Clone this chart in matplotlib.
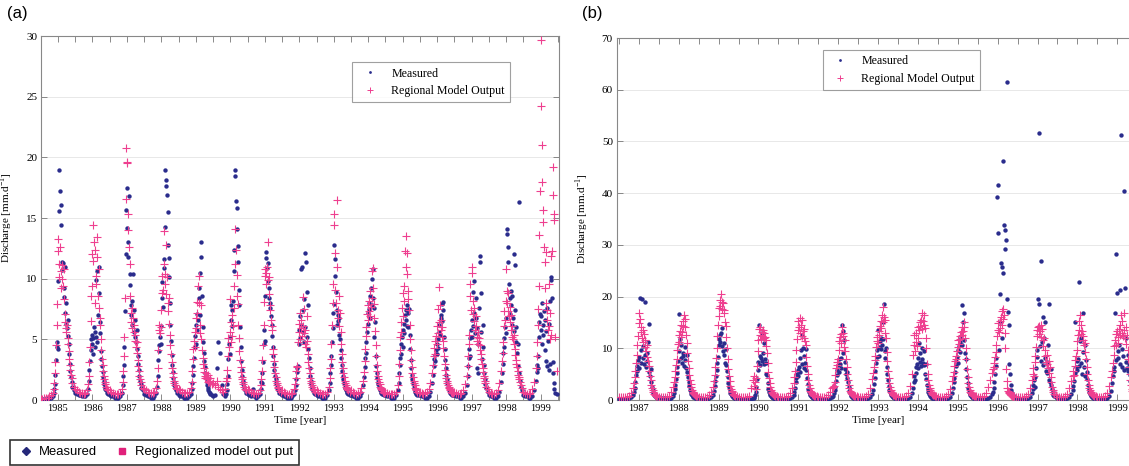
import numpy as np
import matplotlib
matplotlib.use("Agg")
import matplotlib.pyplot as plt
from matplotlib.ticker import MultipleLocator
from matplotlib.lines import Line2D

plt.rcParams['font.family'] = 'Liberation Serif'
plt.rcParams['mathtext.fontset'] = 'custom'
plt.rcParams['mathtext.rm'] = 'Liberation Serif'

NAVY = '#2a2c8c'
PINK = '#ee3f8f'

# sample times inside each hydrological year, relative to the year tick:
# sparse in the low flow season, denser around the melt peak
PRE = [-0.50, -0.45, -0.40, -0.35, -0.30, -0.25, -0.20, -0.15]
PEAK = list(-0.12 + np.arange(32) / 60)
POST = [0.42, 0.46]
OFFS = np.array(PRE + PEAK + POST)

# ---- panel (a) ----
YEARS_A = list(range(1985, 2000))
MEAS_A = [
    [0.1,0.1,0.1,0.1,0.1,0.2,0.2,0.3, 0.6,0.9,1.3,2.1,3.3,4.4,4.8,4.2,9.8,15.6,19.0,17.2,14.4,16.1,11.4,10.7,11.3,8.5,9.2,11.0,7.2,6.3,8.0,5.9,6.6,5.3,4.6,3.8,3.0,2.4,1.9,1.5, 1.1,0.8],
    [0.6,0.5,0.4,0.4,0.3,0.3,0.3,0.5, 0.9,1.6,2.5,3.2,4.1,5.0,4.6,5.4,3.8,5.1,6.0,4.4,5.6,9.9,5.2,4.8,10.6,7.0,11.0,8.8,6.4,5.5,4.0,3.4,2.8,2.3,1.9,1.6,1.3,1.1,0.9,0.8, 0.6,0.5],
    [0.4,0.3,0.3,0.2,0.2,0.2,0.3,0.6, 1.2,2.0,2.9,4.4,7.3,12.0,15.7,17.5,14.2,13.0,11.8,16.8,10.4,9.5,7.8,7.0,8.2,6.2,10.4,7.4,5.6,6.6,5.2,4.8,5.8,4.2,3.6,3.0,2.5,2.0,1.6,1.3, 1.0,0.8],
    [0.5,0.4,0.3,0.3,0.2,0.2,0.3,0.6, 1.1,2.0,3.3,4.5,4.0,5.2,4.6,6.1,8.4,9.7,7.7,10.9,11.6,14.3,19.0,18.1,17.6,16.9,15.5,12.8,11.7,10.1,8.0,6.2,4.9,3.7,2.9,2.3,1.8,1.5,1.2,1.0, 0.8,0.6],
    [0.4,0.3,0.3,0.2,0.2,0.2,0.3,0.5, 0.9,1.4,2.1,2.8,3.5,4.4,5.3,4.6,6.2,5.8,7.1,6.6,8.4,9.2,7.0,10.5,13.0,11.8,8.6,6.0,4.8,3.9,3.2,2.7,2.2,1.8,1.5,1.2,1.0,0.8,0.7,0.6, 0.5,0.4],
    [0.3,0.4,2.6,4.8,3.9,1.2,0.5,0.3, 0.5,0.8,1.3,2.0,3.4,4.6,3.8,5.2,6.6,7.8,6.1,7.4,8.2,10.6,12.4,19.0,18.5,16.4,15.8,14.1,12.7,11.4,9.1,7.8,6.0,4.4,3.2,2.5,2.0,1.6,1.3,1.1, 0.8,0.6],
    [0.5,0.4,0.3,0.9,0.3,0.2,0.3,0.5, 0.9,1.5,2.2,1.4,3.1,4.6,5.8,4.9,8.6,12.2,11.7,10.9,9.8,11.3,8.4,9.2,7.6,8.0,6.9,5.3,6.2,4.4,3.6,3.0,2.5,2.0,1.7,1.4,1.2,1.0,0.9,0.8, 0.6,0.5],
    [0.4,0.3,0.3,0.2,0.2,0.2,0.3,0.5, 0.8,1.2,1.7,2.3,2.6,2.8,4.6,5.8,6.9,5.1,10.8,6.2,11.0,7.4,5.6,8.3,4.8,6.0,12.1,11.4,8.9,5.2,7.8,4.2,3.5,2.6,2.0,1.6,1.3,1.1,0.9,0.8, 0.6,0.5],
    [0.4,0.3,0.3,0.2,0.2,0.2,0.4,0.8, 1.4,2.2,2.9,3.6,4.8,5.9,7.2,7.9,12.8,11.6,10.2,8.9,7.4,6.2,7.0,6.5,5.4,6.8,5.0,4.1,3.5,2.9,2.4,2.0,1.7,1.4,1.2,1.0,0.9,0.8,0.7,0.6, 0.5,0.4],
    [0.4,0.3,0.3,0.2,0.2,0.3,0.6,1.2, 1.9,2.7,3.5,3.9,4.8,5.6,6.3,7.2,8.0,7.5,6.8,8.6,9.2,7.8,10.0,10.8,8.4,7.6,5.2,6.4,3.6,2.8,2.2,1.8,1.5,1.3,1.1,0.9,0.8,0.7,0.6,0.5, 0.5,0.4],
    [0.4,0.3,0.3,0.2,0.2,0.2,0.4,0.8, 1.4,2.2,2.9,3.5,3.8,4.6,5.2,4.4,5.8,6.3,5.5,7.0,6.6,7.4,6.1,7.8,7.2,6.0,7.5,5.4,4.2,3.3,2.6,2.1,1.7,1.4,1.2,1.0,0.8,0.7,0.6,0.5, 0.4,0.4],
    [0.4,0.3,0.3,0.2,0.2,0.3,0.7,1.4, 2.1,2.8,3.4,3.7,3.2,4.1,3.8,4.6,5.0,4.3,5.6,6.2,5.4,6.8,7.0,7.9,6.5,8.1,7.4,5.2,4.2,3.3,2.6,2.1,1.7,1.4,1.1,0.9,0.8,0.7,0.6,0.5, 0.4,0.4],
    [0.4,0.3,0.3,0.2,0.2,0.3,0.6,1.2, 2.0,2.8,3.5,4.2,3.6,5.1,5.8,6.6,5.2,8.9,6.1,9.8,7.2,5.5,8.4,6.8,2.6,5.9,4.6,2.2,7.6,11.9,11.4,8.8,5.6,3.4,6.2,4.4,2.9,2.2,1.7,1.3, 1.0,0.7],
    [0.4,0.3,0.3,0.2,0.2,0.3,0.7,1.5, 2.2,3.0,3.9,5.1,4.4,6.0,5.5,6.8,14.1,13.7,12.6,11.4,9.6,8.4,7.1,9.0,7.8,6.2,8.6,6.8,12.0,5.7,11.1,7.4,4.8,6.0,3.9,4.6,2.8,16.3,2.2,1.6, 1.1,0.8],
    [0.4,0.3,0.3,0.2,0.2,0.3,0.8,1.6, 2.3,2.9,3.6,2.6,5.2,6.4,7.1,5.8,6.9,4.6,8.0,6.2,5.4,7.3,4.1,6.6,3.2,5.7,2.8,7.6,4.9,6.3,2.5,8.2,3.0,9.9,10.1,8.4,3.1,2.2,1.4,0.9, 0.6,0.5],
]
MODEL_A = [
    [0.1,0.1,0.2,0.2,0.2,0.3,0.4,0.6, 0.9,1.4,2.2,3.1,4.5,6.2,7.9,12.3,13.3,11.2,10.1,12.6,9.2,10.6,10.0,11.1,9.4,10.8,8.3,7.1,6.4,5.9,5.6,6.2,5.1,4.6,4.0,3.4,2.9,2.5,2.1,1.8, 1.4,1.1],
    [0.9,0.8,0.7,0.6,0.6,0.5,0.6,0.8, 1.3,2.0,3.1,4.4,6.5,8.6,12.0,9.4,14.4,11.5,13.0,8.0,12.4,10.2,9.6,11.8,13.4,8.6,10.8,7.6,6.8,6.2,5.0,4.1,3.4,2.9,2.4,2.0,1.7,1.5,1.3,1.1, 0.9,0.8],
    [0.8,0.7,0.6,0.5,0.5,0.5,0.6,0.9, 1.5,2.4,3.6,5.2,8.4,16.6,20.8,19.5,19.6,15.3,14.0,12.6,11.2,8.6,7.2,6.4,7.6,5.9,6.8,5.6,6.2,4.9,5.4,4.4,4.8,3.9,3.3,2.8,2.4,2.0,1.7,1.5, 1.2,1.0],
    [0.9,0.8,0.7,0.6,0.6,0.6,0.7,1.0, 1.6,2.6,4.1,5.8,6.2,5.5,6.0,7.4,8.8,10.2,9.1,13.9,11.2,10.4,9.6,12.8,8.7,10.1,8.0,7.3,8.4,6.3,5.4,4.5,3.8,3.1,2.6,2.2,1.9,1.6,1.4,1.2, 1.0,0.9],
    [0.9,0.8,0.7,0.6,0.6,0.6,0.7,1.0, 1.5,2.4,3.4,4.2,4.9,4.4,5.6,6.8,5.9,8.1,7.2,9.4,10.2,8.0,6.2,5.5,7.8,5.0,4.1,3.5,3.0,2.6,2.3,2.0,1.8,2.2,1.7,1.9,1.5,2.1,1.6,1.4, 1.8,1.3],
    [1.4,1.2,1.6,1.1,0.9,0.8,0.7,0.9, 1.6,2.5,1.8,3.6,5.1,4.4,8.3,5.6,4.8,6.4,5.3,7.0,6.1,9.4,7.6,11.2,14.1,12.4,8.6,10.3,7.9,6.2,5.1,4.0,3.3,2.7,2.3,1.9,1.7,1.5,1.3,1.1, 0.9,0.8],
    [0.9,0.8,0.7,0.6,0.6,0.5,0.6,0.8, 1.2,1.7,2.4,3.3,4.5,6.2,8.1,10.2,10.8,9.6,10.5,11.0,13.0,9.9,8.7,10.1,7.4,7.8,6.6,5.8,6.1,4.2,3.8,3.2,2.7,2.2,1.9,1.6,1.4,1.2,1.1,1.0, 0.8,0.7],
    [0.8,0.7,0.6,0.5,0.5,0.5,0.6,0.9, 1.3,1.8,2.4,2.8,2.7,4.8,5.6,6.3,5.0,7.2,5.9,6.6,5.3,8.5,6.1,5.5,7.5,4.6,5.8,4.4,6.9,4.9,3.8,3.1,2.6,2.2,1.8,1.6,1.4,1.2,1.1,0.9, 0.8,0.7],
    [0.8,0.7,0.6,0.5,0.5,0.5,0.7,1.1, 1.8,2.6,3.4,4.6,6.2,8.0,9.6,15.3,14.4,12.1,9.1,8.0,11.0,16.5,7.4,6.8,8.6,6.1,7.2,5.6,4.6,3.8,3.1,2.6,2.2,1.9,1.6,1.4,1.2,1.1,1.0,0.9, 0.8,0.7],
    [0.8,0.7,0.6,0.5,0.6,0.7,1.0,1.6, 2.3,3.2,4.2,5.3,6.0,7.1,7.8,6.6,8.2,7.3,6.9,9.0,7.7,8.4,10.6,10.9,9.2,7.9,6.8,5.7,4.5,3.6,2.9,2.4,2.0,1.7,1.5,1.3,1.1,1.0,0.9,0.8, 0.7,0.6],
    [0.7,0.6,0.5,0.5,0.5,0.5,0.7,1.2, 2.0,3.0,4.1,5.2,6.4,5.6,7.6,8.8,6.9,9.4,8.2,12.3,11.0,13.5,10.4,12.1,9.0,8.3,7.4,6.2,5.0,4.1,3.3,2.7,2.2,1.9,1.6,1.4,1.2,1.0,0.9,0.8, 0.7,0.6],
    [0.7,0.6,0.5,0.6,0.7,0.9,1.4,2.2, 2.9,3.6,4.3,3.8,4.9,5.3,4.6,6.1,5.5,7.5,9.3,6.4,7.8,5.8,6.6,5.2,6.0,4.9,4.3,3.6,3.0,2.5,2.1,1.8,1.6,1.4,1.2,1.1,1.0,0.9,0.8,0.7, 0.6,0.6],
    [0.7,0.6,0.5,0.5,0.6,0.8,1.3,2.0, 2.8,3.6,4.6,5.4,8.6,9.6,7.4,11.0,10.5,8.2,7.1,6.5,7.6,5.8,6.9,6.1,5.2,4.9,5.6,4.6,5.1,4.1,4.5,3.8,3.4,3.0,2.6,2.3,2.0,1.8,1.6,1.4, 1.1,0.9],
    [0.7,0.6,0.5,0.5,0.6,0.8,1.4,2.4, 3.2,3.9,4.8,6.1,7.3,6.6,8.2,10.8,9.0,8.0,7.3,8.8,6.9,7.7,6.4,5.8,7.0,5.2,6.1,5.0,4.6,5.4,4.2,3.7,3.3,3.0,2.7,2.4,2.1,1.9,1.7,1.5, 1.2,1.0],
    [0.7,0.6,0.5,0.5,0.6,0.9,1.5,2.6, 3.6,4.8,6.2,7.5,9.4,13.6,17.2,29.7,24.2,21.0,18.0,15.7,14.7,12.6,11.4,9.2,12.2,8.0,6.6,7.4,5.8,9.6,6.1,5.0,7.2,5.4,11.9,12.3,19.2,16.9,15.3,14.8, 5.2,2.4],
]

# ---- panel (b) ----
YEARS_B = list(range(1987, 2000))
MEAS_B = [
    [0.2,0.2,0.2,0.2,0.2,0.3,0.5,1.0, 1.6,2.4,3.5,4.8,5.6,6.5,7.8,6.2,8.4,19.8,7.2,9.6,19.5,8.1,10.4,7.0,8.8,19.0,6.3,9.1,7.5,11.2,5.4,14.7,4.6,6.0,3.4,2.6,1.9,1.4,1.0,0.8, 0.5,0.4],
    [0.5,0.4,0.3,0.3,0.2,0.2,0.4,0.8, 1.4,2.2,3.0,4.1,5.2,6.4,7.6,16.7,9.4,11.8,8.2,10.6,7.1,9.0,8.5,6.6,10.2,7.8,6.2,8.8,5.5,4.4,3.5,2.7,2.0,1.5,1.1,0.9,0.7,0.6,0.5,0.4, 0.3,0.3],
    [0.3,0.3,0.2,0.2,0.2,0.3,0.5,1.0, 1.8,2.7,3.6,4.7,5.9,7.2,8.4,10.6,11.8,12.6,11.2,12.9,10.4,14.0,9.5,11.0,8.8,7.2,9.8,6.8,5.6,4.4,3.3,2.5,1.9,1.4,1.1,0.9,0.7,0.6,0.5,0.4, 0.3,0.3],
    [0.3,0.2,0.2,0.2,0.2,0.2,0.2,0.3, 0.4,0.6,1.0,1.6,2.6,4.0,5.8,7.4,14.5,8.6,6.8,8.2,13.0,7.6,9.0,11.0,6.9,8.0,5.0,7.2,4.8,3.2,2.2,1.6,1.2,0.9,0.7,0.6,0.5,0.4,0.4,0.3, 0.3,0.3],
    [0.3,0.3,0.2,0.2,0.2,0.2,0.3,0.6, 1.0,1.6,2.4,3.4,4.2,5.0,5.8,4.6,6.4,8.2,5.4,9.6,12.5,7.0,10.0,6.2,8.6,7.1,9.9,5.8,4.2,3.1,2.2,1.6,1.2,0.9,0.7,0.6,0.5,0.4,0.4,0.3, 0.3,0.3],
    [0.3,0.2,0.2,0.2,0.2,0.2,0.3,0.5, 0.8,1.3,1.9,2.6,3.6,4.8,5.9,6.8,5.4,7.9,7.0,6.2,8.1,14.5,13.4,9.0,11.6,7.4,6.0,5.1,4.2,5.5,3.4,2.5,1.8,1.3,1.0,0.8,0.6,0.5,0.4,0.4, 0.3,0.3],
    [0.3,0.2,0.2,0.2,0.2,0.3,0.5,1.1, 2.0,3.1,4.2,5.6,7.2,8.4,9.6,13.5,10.2,8.6,11.4,9.8,12.0,10.6,15.0,11.8,18.5,9.4,8.2,10.1,6.4,5.0,3.8,2.8,2.0,1.5,1.1,0.9,0.7,0.6,0.5,0.4, 0.3,0.3],
    [0.3,0.2,0.2,0.2,0.2,0.3,0.6,1.3, 2.4,3.5,4.6,3.9,5.2,6.4,7.0,6.1,8.2,11.0,7.4,9.0,6.6,8.0,10.0,7.2,9.4,6.8,5.0,7.0,4.0,3.0,2.2,1.6,1.2,0.9,0.7,0.6,0.5,0.4,0.4,0.3, 0.3,0.3],
    [0.3,0.2,0.2,0.2,0.2,0.3,0.6,1.4, 2.4,3.4,4.2,5.4,6.6,7.6,8.4,7.2,9.6,10.4,11.2,9.2,12.0,10.6,18.3,15.0,11.6,16.9,9.0,8.0,6.0,4.4,3.2,2.3,1.6,1.2,0.9,0.7,0.6,0.5,0.4,0.4, 0.3,0.3],
    [0.3,0.2,0.2,0.2,0.2,0.3,0.6,1.2, 1.6,2.4,3.4,5.0,6.6,8.2,39.3,41.5,32.3,9.6,15.0,20.5,26.5,12.0,25.8,24.5,46.3,33.8,32.8,29.2,31.0,61.4,19.5,17.0,14.5,7.0,5.0,3.0,2.0,1.3,0.9,0.7, 0.5,0.4],
    [0.3,0.2,0.2,0.2,0.2,0.3,0.6,1.3, 2.2,3.0,3.8,2.6,4.4,6.2,8.4,9.6,19.6,51.6,18.5,10.4,7.6,26.9,11.2,16.0,6.8,12.0,8.2,15.0,5.6,7.4,5.2,10.6,3.8,18.5,3.5,6.0,3.0,2.2,1.5,1.0, 0.7,0.5],
    [0.4,0.3,0.2,0.2,0.2,0.3,0.6,1.2, 2.0,2.8,3.6,15.0,5.2,6.4,7.6,5.8,8.0,6.6,22.8,11.4,7.2,12.0,5.0,9.2,16.8,6.4,10.6,4.6,7.8,5.4,4.0,3.0,2.2,1.6,1.2,0.9,0.7,0.6,0.5,0.4, 0.3,0.3],
    [0.4,0.3,0.2,0.2,0.2,0.3,0.8,1.8, 3.2,4.6,5.6,6.4,16.8,7.8,28.3,20.6,9.4,8.2,10.6,21.3,7.0,51.3,9.8,6.4,8.6,40.5,5.8,21.7,7.4,12.0,6.2,8.8,5.6,7.0,4.8,3.6,2.6,1.8,1.3,1.0, 0.7,0.5],
]
MODEL_B = [
    [0.5,0.5,0.5,0.5,0.6,0.8,1.4,2.4, 3.2,4.4,5.6,7.2,8.8,10.6,12.4,14.8,16.9,15.6,13.2,14.1,12.0,13.6,11.2,12.8,10.3,11.6,9.4,10.6,8.4,7.5,6.6,5.6,4.6,3.8,3.0,2.4,1.9,1.5,1.2,1.0, 0.8,0.7],
    [0.6,0.6,0.5,0.5,0.6,0.8,1.5,2.5, 3.4,4.5,5.6,6.8,8.0,9.6,10.8,12.5,11.2,13.4,12.1,14.6,13.2,15.3,14.4,16.5,15.6,14.2,12.5,11.0,9.0,7.6,6.2,4.9,3.9,3.1,2.5,2.0,1.6,1.3,1.1,0.9, 0.8,0.7],
    [0.6,0.6,0.5,0.5,0.6,0.9,1.6,2.6, 3.6,4.8,6.4,8.2,10.0,12.4,14.6,16.2,17.8,19.4,18.2,20.5,19.0,17.6,18.8,16.8,17.5,15.0,14.4,12.2,10.0,7.9,6.0,4.6,3.6,2.8,2.2,1.8,1.5,1.2,1.0,0.9, 0.8,0.7],
    [0.6,0.6,0.5,0.5,0.6,0.8,2.4,3.8, 2.8,4.6,3.4,2.2,4.2,6.6,9.4,11.6,13.8,12.5,14.2,11.8,13.1,12.4,13.6,11.9,13.0,12.2,10.4,11.6,9.0,7.2,5.5,4.2,3.2,2.5,2.0,1.6,1.3,1.1,1.0,0.9, 0.8,0.7],
    [0.6,0.5,0.5,0.5,0.6,0.8,1.4,2.4, 3.3,4.4,5.6,7.4,9.6,11.8,13.6,15.2,14.1,15.8,13.0,14.6,12.4,15.5,13.3,12.0,13.8,11.5,10.6,8.4,6.6,5.0,3.8,2.9,2.3,1.8,1.5,1.3,1.1,1.0,0.9,0.8, 0.7,0.7],
    [0.6,0.5,0.5,0.5,0.6,0.9,1.6,2.3, 2.6,2.8,3.4,4.8,6.2,7.4,6.8,8.0,9.6,11.4,12.2,11.0,12.8,14.2,13.0,12.4,10.2,11.6,9.4,8.0,6.4,5.0,3.8,2.9,2.3,1.8,1.5,1.3,1.1,1.0,0.9,0.8, 0.7,0.7],
    [0.6,0.6,0.5,0.5,0.7,1.2,2.4,4.0, 5.2,6.4,7.8,8.6,10.2,11.4,12.2,11.0,13.4,12.6,14.4,15.2,14.0,16.4,15.0,17.9,16.0,15.5,13.0,12.0,9.2,7.6,5.6,4.2,3.2,2.5,2.0,1.6,1.3,1.1,1.0,0.9, 0.8,0.7],
    [0.6,0.6,0.5,0.6,0.8,1.4,2.8,5.0, 8.8,10.6,12.6,9.4,11.2,13.0,10.4,12.0,14.2,13.6,15.0,14.4,15.5,13.8,16.8,15.2,14.6,16.4,14.0,12.0,10.0,7.0,5.0,3.8,2.9,2.3,1.9,1.6,1.3,1.1,1.0,0.9, 0.8,0.7],
    [0.6,0.6,0.5,0.6,0.7,1.1,2.2,3.6, 4.6,5.4,6.6,7.6,8.6,8.0,9.4,10.2,11.6,10.8,12.4,11.8,13.2,12.6,14.2,13.4,15.0,14.1,12.0,10.0,8.0,6.0,4.4,3.3,2.5,2.0,1.6,1.4,1.2,1.0,0.9,0.8, 0.8,0.7],
    [0.6,0.6,0.6,0.8,1.4,2.6,3.8,5.2, 6.0,7.2,6.4,8.4,9.2,10.6,12.4,13.6,14.8,13.2,15.2,14.0,16.0,14.6,17.2,15.6,17.6,16.4,13.0,10.0,6.0,3.6,2.4,1.8,1.5,1.3,1.1,1.0,0.9,0.8,0.8,0.7, 0.7,0.6],
    [0.6,0.6,0.5,0.6,0.8,1.2,2.4,3.8, 5.0,6.2,4.6,7.4,8.6,10.2,12.4,13.6,14.2,12.8,14.4,13.4,14.6,12.2,13.8,11.6,10.4,12.0,8.6,9.6,7.4,8.8,7.0,6.2,7.6,5.2,6.4,4.4,3.4,2.6,2.0,1.6, 1.2,1.0],
    [0.6,0.6,0.5,0.5,0.7,1.2,2.4,3.6, 4.6,5.6,4.8,6.6,7.8,8.6,9.6,11.4,12.6,13.6,15.2,16.4,14.6,12.8,13.4,11.6,12.4,10.6,11.0,9.2,8.0,6.4,5.0,3.8,2.9,2.3,1.9,1.6,1.3,1.1,1.0,0.9, 0.8,0.7],
    [0.6,0.6,0.5,0.6,0.8,1.4,2.8,4.4, 5.6,7.2,8.8,10.4,11.6,12.8,10.6,13.4,12.2,11.0,13.8,12.6,14.6,16.4,13.0,15.2,12.4,16.8,13.6,12.0,14.2,10.8,12.6,9.6,8.0,6.4,5.0,3.8,2.9,2.2,1.7,1.4, 1.1,0.9],
]


def series(years, rows):
    for y, r in zip(years, rows):
        assert len(r) == len(OFFS), (y, len(r))
    t = np.concatenate([y + OFFS for y in years])
    return t, np.concatenate(rows)


fig = plt.figure(figsize=(11.29, 4.66), dpi=100)
ax_a = fig.add_axes([0.0366, 0.1416, 0.4585, 0.781])
ax_b = fig.add_axes([0.5465, 0.1416, 0.4632, 0.7768])

# legend anchors are the upper left corners of the boxes, in axes fractions
panels = [
    (ax_a, YEARS_A, MEAS_A, MODEL_A, (1984.52, 1999.53), 30, 5, (0.601, 0.928)),
    (ax_b, YEARS_B, MEAS_B, MODEL_B, (1986.45, 1999.57), 70, 10, (0.393, 0.967)),
]

for ax, years, meas, model, xlim, ymax, ystep, leg_pos in panels:
    t, vm = series(years, meas)
    t2, vp = series(years, model)
    ax.scatter(t, vm, s=10, marker='o', color=NAVY, linewidths=0, zorder=3)
    ax.scatter(t2, vp, s=26, marker='+', color=PINK, linewidths=0.8, zorder=4)

    ax.set_xlim(*xlim)
    ax.set_ylim(0, ymax)
    ax.xaxis.set_major_locator(MultipleLocator(1))
    ax.xaxis.set_minor_locator(MultipleLocator(0.5))
    ax.yaxis.set_major_locator(MultipleLocator(ystep))
    ax.yaxis.grid(True, color='#e4e4e4', lw=0.6, zorder=0)
    ax.set_axisbelow(True)
    ax.tick_params(which='both', direction='in', top=True, right=True,
                   length=4, width=0.6, color='#777777', labelsize=8, pad=3)
    ax.tick_params(axis='x', labelsize=7.5)
    for sp in ax.spines.values():
        sp.set_color('#888888')
        sp.set_linewidth(0.8)

    ax.set_xlabel('Time [year]', fontsize=8)
    ax.set_ylabel(r'Discharge [mm.d$^{-1}$]', fontsize=8)
    ax.xaxis.set_label_coords(0.5, -0.045)
    ax.yaxis.set_label_coords(-0.05, 0.5)

    handles = [Line2D([], [], ls='', marker='o', ms=2, color=NAVY, mew=0),
               Line2D([], [], ls='', marker='+', ms=4.5, mew=0.7, color=PINK)]
    leg = ax.legend(handles, ['Measured', 'Regional Model Output'], loc='upper left',
                    bbox_to_anchor=leg_pos, borderaxespad=0, fontsize=8.6,
                    frameon=True, fancybox=False, edgecolor='#888888',
                    borderpad=0.45, labelspacing=0.45, handlelength=2.0,
                    handletextpad=0.8)
    leg.get_frame().set_linewidth(0.8)

fig.text(7 / 1129, 1 - 6 / 466, '(a)', family='Liberation Sans', fontsize=12, va='top')
fig.text(582 / 1129, 1 - 6 / 466, '(b)', family='Liberation Sans', fontsize=12, va='top')

# legend box at the bottom of the figure
bottom_handles = [Line2D([], [], ls='', marker='D', ms=4, color='#25287a'),
                  Line2D([], [], ls='', marker='s', ms=4, color='#e0207a')]
bleg = fig.legend(bottom_handles, ['Measured', 'Regionalized model out put'],
                  loc='lower left', bbox_to_anchor=(10 / 1129, 1 / 466),
                  borderaxespad=0, ncol=2,
                  prop={'family': 'Liberation Sans', 'size': 9.4}, frameon=True,
                  fancybox=False, edgecolor='black', borderpad=0.5,
                  handlelength=1.5, handletextpad=0.2, columnspacing=1.2)
bleg.get_frame().set_linewidth(1.2)

fig.savefig('out.png', dpi=100)
